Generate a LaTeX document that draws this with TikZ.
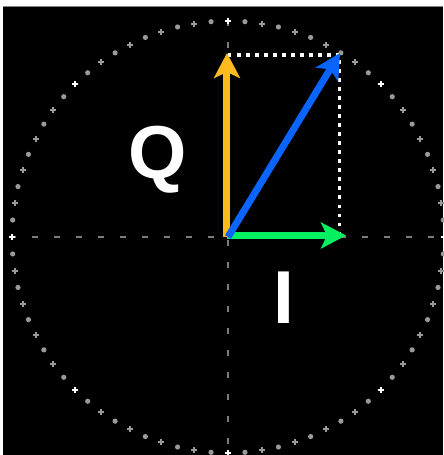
\documentclass[tikz,border=0pt]{standalone}
\usepackage{fontspec}
\setmainfont{Liberation Sans}
\usepackage{xcolor}
\usepackage{tikz}
\usetikzlibrary{calc, arrows.meta, positioning}

\definecolor{qyellow}{HTML}{FFBA1E}
\definecolor{iqblue}{HTML}{0A64FF}
\definecolor{igreen}{HTML}{00F060}
\definecolor{markgray}{HTML}{9A9A9A}

\tikzset{
    vec/.style={line width=7pt, -{Stealth[length=25pt, width=26pt, inset=6pt]}},
    axisline/.style={markgray!80!black, line width=1.2pt, dash pattern=on 6pt off 16pt},
    proj/.style={white, line width=3.5pt, dash pattern=on 3.5pt off 5.5pt},
    biglabel/.style={white, inner sep=0pt, anchor=base, font=\bfseries\fontsize{75}{75}\selectfont}
}

\begin{document}
\begin{tikzpicture}[x=1pt, y=1pt]
    % Nền
    \fill[white] (-228,-218) rectangle (215,237);
    \fill[black] (-225,-218) rectangle (215,230);
    \draw[gray, line width=1pt] (-225,230.5) -- (215,230.5);
    \useasboundingbox (-228,-218) rectangle (215,237);

    % Trục tọa độ
    \coordinate (O) at (0,0);
    \draw[axisline] (-218,0) -- (215,0);
    \draw[axisline] (0,217) -- (0,-218);

    % Vòng tròn điểm
    \foreach \a in {0,9,...,351}
        \draw[markgray, line width=2pt] ($(\a:216)+(-3,0)$) -- ++(6,0)
            ($(\a:216)+(0,-3)$) -- ++(0,6);
    \foreach \a in {4.5,13.5,...,355.5}
        \fill[markgray] (\a:216) circle (2.6pt);
    \foreach \a in {0,45,...,315}
        \draw[white, line width=2pt] ($(\a:216)+(-3,0)$) -- ++(6,0)
            ($(\a:216)+(0,-3)$) -- ++(0,6);

    % Hình chiếu
    \coordinate (Qend) at (-1,184);
    \coordinate (Iend) at (118,1.5);
    \coordinate (Send) at (112,184);
    \coordinate (C) at (111.5,182);
    \draw[proj] (O |- C) -- (C) -- (111.5,5);

    % Các vectơ
    \draw[vec, qyellow] (-1,0) -- (Qend);
    \draw[vec, igreen] (-1,1.5) -- (Iend);
    \draw[vec, iqblue] (O) -- (Send);

    % Nhãn
    \node[biglabel] (qlabel) at (-70,59) {Q};
    \node[biglabel] (ilabel) at (56,-86) {I};
\end{tikzpicture}
\end{document}
